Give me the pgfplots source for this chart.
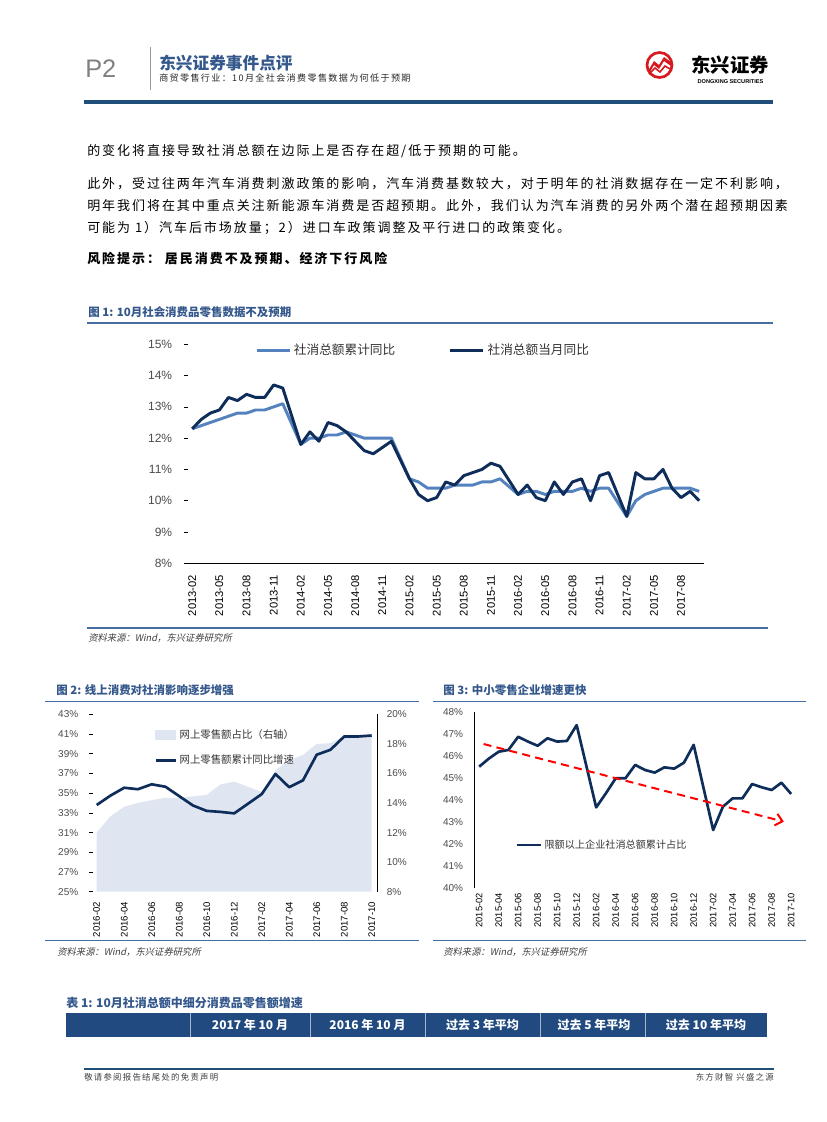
\documentclass[border=0pt]{standalone}
\usepackage{fontspec}
\setmainfont{Liberation Sans}
\newfontfamily\cjk{Noto Sans CJK SC}
\newfontfamily\cjkbody[LetterSpace=15]{Noto Sans CJK SC}
\newfontfamily\cjksl[FakeSlant=0.2]{Noto Sans CJK SC}
\usepackage{pgfplots}
\pgfplotsset{compat=1.18}
\usetikzlibrary{arrows.meta}
\definecolor{navy}{RGB}{14,45,90}
\definecolor{lightb}{RGB}{84,130,190}
\definecolor{hdrblue}{RGB}{31,78,121}
\definecolor{ttlblue}{RGB}{52,88,140}
\definecolor{sepblue}{RGB}{70,110,160}
\definecolor{areacol}{RGB}{223,230,242}
\definecolor{tblblue}{RGB}{33,74,128}
\definecolor{logored}{RGB}{215,25,32}
\begin{document}
\begin{tikzpicture}
\begin{scope}[x=0.75pt,y=-0.75pt]
\path[fill=white] (0,0) rectangle (827,1122);
% header
\node[anchor=west,inner sep=0,text=black!50] at (85,69) {\fontsize{19pt}{19pt}\selectfont P2};
\draw[black!40,line width=0.6pt] (150,47) -- (150,90);
\node[anchor=west,inner sep=0,text=ttlblue] at (159,63) {\cjk\bfseries\fontsize{12.5pt}{14pt}\selectfont 东兴证券事件点评};
\node[anchor=west,inner sep=0,text=black!85] at (159,78) {\cjkbody\fontsize{6.8pt}{8pt}\selectfont 商贸零售行业：10月全社会消费零售数据为何低于预期};
% logo
\draw[logored,line width=2pt] (659.5,65) circle (12.5);
\fill[logored] (648,71) -- (654,61) -- (659,65) -- (664,57) -- (671,62) -- (671,66) -- (664,61) -- (659,69) -- (654,65) -- (650,72) -- cycle;
\draw[logored,line width=1.2pt] (649,74) -- (655,68) -- (660,72) -- (665,66) -- (670,69);
\node[inner sep=0] at (730,65) {\cjk\bfseries\fontsize{14.5pt}{15pt}\selectfont 东兴证券};
\node[inner sep=0] at (730.5,82) {\bfseries\fontsize{4.2pt}{5pt}\selectfont DONGXING SECURITIES};
\draw[hdrblue,line width=2.4pt] (84,102) -- (773,102);
% body text
\node[anchor=west,inner sep=0] at (87,151) {\cjkbody\fontsize{9.75pt}{12pt}\selectfont 的变化将直接导致社消总额在边际上是否存在超/低于预期的可能。};
\node[anchor=west,inner sep=0] at (87,184) {\cjkbody\fontsize{9.75pt}{12pt}\selectfont 此外，受过往两年汽车消费刺激政策的影响，汽车消费基数较大，对于明年的社消数据存在一定不利影响，};
\node[anchor=west,inner sep=0] at (87,206) {\cjkbody\fontsize{9.75pt}{12pt}\selectfont 明年我们将在其中重点关注新能源车消费是否超预期。此外，我们认为汽车消费的另外两个潜在超预期因素};
\node[anchor=west,inner sep=0] at (87,228) {\cjkbody\fontsize{9.75pt}{12pt}\selectfont 可能为 1）汽车后市场放量；2）进口车政策调整及平行进口的政策变化。};
\node[anchor=west,inner sep=0] at (87,258.5) {\cjkbody\bfseries\fontsize{9.75pt}{12pt}\selectfont 风险提示：\ 居民消费不及预期、经济下行风险};
% figure 1 frame
\node[anchor=west,inner sep=0,text=ttlblue] at (88,312) {\cjk\bfseries\fontsize{8.6pt}{10pt}\selectfont 图 1: 10月社会消费品零售数据不及预期};
\draw[sepblue,line width=1.2pt] (87,323) -- (773,323);
\draw[sepblue,line width=1.2pt] (87,628) -- (768,628);
\node[anchor=west,inner sep=0,text=black!75] at (88,638.5) {\cjksl\fontsize{7pt}{8pt}\selectfont 资料来源：Wind，东兴证券研究所};
% figure 2 frame
\node[anchor=west,inner sep=0,text=ttlblue] at (56,690.5) {\cjk\bfseries\fontsize{8.6pt}{10pt}\selectfont 图 2: 线上消费对社消影响逐步增强};
\draw[sepblue,line width=1.2pt] (45,701.5) -- (419,701.5);
\draw[sepblue,line width=1.2pt] (45,940.5) -- (419,940.5);
\node[anchor=west,inner sep=0,text=black!75] at (57,952.5) {\cjksl\fontsize{7pt}{8pt}\selectfont 资料来源：Wind，东兴证券研究所};
% figure 3 frame
\node[anchor=west,inner sep=0,text=ttlblue] at (443,690.5) {\cjk\bfseries\fontsize{8.6pt}{10pt}\selectfont 图 3: 中小零售企业增速更快};
\draw[sepblue,line width=1.2pt] (433,701.5) -- (806,701.5);
\draw[sepblue,line width=1.2pt] (433,940.5) -- (806,940.5);
\node[anchor=west,inner sep=0,text=black!75] at (443,952.5) {\cjksl\fontsize{7pt}{8pt}\selectfont 资料来源：Wind，东兴证券研究所};
% table
\node[anchor=west,inner sep=0,text=ttlblue] at (66,1003) {\cjk\bfseries\fontsize{9pt}{10pt}\selectfont 表 1: 10月社消总额中细分消费品零售额增速};
\fill[tblblue] (66,1013) rectangle (767,1037);
\foreach \xx in {190,310,425,540,645} {\draw[white!60!tblblue,line width=0.5pt] (\xx,1013) -- (\xx,1037);}
\node[text=white,inner sep=0] at (250,1025) {\cjk\bfseries\fontsize{9pt}{10pt}\selectfont 2017 年 10 月};
\node[text=white,inner sep=0] at (367.5,1025) {\cjk\bfseries\fontsize{9pt}{10pt}\selectfont 2016 年 10 月};
\node[text=white,inner sep=0] at (482.5,1025) {\cjk\bfseries\fontsize{9pt}{10pt}\selectfont 过去 3 年平均};
\node[text=white,inner sep=0] at (594,1025) {\cjk\bfseries\fontsize{9pt}{10pt}\selectfont 过去 5 年平均};
\node[text=white,inner sep=0] at (706,1025) {\cjk\bfseries\fontsize{9pt}{10pt}\selectfont 过去 10 年平均};
% footer
\draw[hdrblue,line width=1.5pt] (84,1069) -- (774,1069);
\node[anchor=west,inner sep=0,text=black!75] at (84,1077.5) {\cjkbody\fontsize{6.3pt}{7pt}\selectfont 敬请参阅报告结尾处的免责声明};
\node[anchor=east,inner sep=0,text=black!75] at (774,1077.5) {\cjkbody\fontsize{6.3pt}{7pt}\selectfont 东方财智 兴盛之源};
\end{scope}

% ---------- Chart 1 ----------
\begin{axis}[
 at={(140.78pt,-422.48pt)}, anchor=south west, scale only axis,
 width=387pt, height=164.3pt,
 xmin=-0.5, xmax=56.5, ymin=8, ymax=15,
 axis x line*=bottom, axis y line*=left,
 x axis line style={black, line width=0.7pt, -},
 y axis line style={draw=none},
 xtick={0,3,...,54},
 xticklabels={2013-02,2013-05,2013-08,2013-11,2014-02,2014-05,2014-08,2014-11,2015-02,2015-05,2015-08,2015-11,2016-02,2016-05,2016-08,2016-11,2017-02,2017-05,2017-08},
 ytick={8,...,15},
 yticklabels={8\%,9\%,10\%,11\%,12\%,13\%,14\%,15\%},
 xtick style={draw=none},
 ytick style={black, line width=0.5pt},
 tick align=outside, major tick length=2.5pt,
 xticklabel style={rotate=90, anchor=east, inner sep=0pt, font=\fontsize{8.4pt}{9pt}\selectfont, text=black},
 xticklabel shift=6pt,
 yticklabel style={anchor=east, inner sep=0pt, font=\fontsize{9pt}{10pt}\selectfont, text=black!70},
 yticklabel shift=9pt,
 legend columns=2,
 legend style={draw=none, fill=none, at={(0.13,0.972)}, anchor=west, inner sep=0pt,
   font=\cjk\fontsize{9.5pt}{10pt}\selectfont, text=black!80,
   /tikz/every even column/.append style={column sep=38pt}},
 legend image code/.code={\draw[#1] (0pt,0pt) -- (25pt,0pt);},
]
\addplot[lightb, line width=2.2pt, line join=round] coordinates {
(0,12.3)(1,12.4)(2,12.5)(3,12.6)(4,12.7)(5,12.8)(6,12.8)(7,12.9)(8,12.9)(9,13.0)(10,13.1)
(12,11.8)(13,12.0)(14,12.0)(15,12.1)(16,12.1)(17,12.2)(18,12.1)(19,12.0)(20,12.0)(21,12.0)(22,12.0)
(24,10.7)(25,10.6)(26,10.4)(27,10.4)(28,10.4)(29,10.5)(30,10.5)(31,10.5)(32,10.6)(33,10.6)(34,10.7)
(36,10.2)(37,10.3)(38,10.3)(39,10.2)(40,10.3)(41,10.3)(42,10.3)(43,10.4)(44,10.3)(45,10.4)(46,10.4)
(48,9.5)(49,10.0)(50,10.2)(51,10.3)(52,10.4)(53,10.4)(54,10.4)(55,10.4)(56,10.3)};
\addlegendentry{社消总额累计同比}
\addplot[navy, line width=2.2pt, line join=round] coordinates {
(0,12.3)(1,12.6)(2,12.8)(3,12.9)(4,13.3)(5,13.2)(6,13.4)(7,13.3)(8,13.3)(9,13.7)(10,13.6)
(12,11.8)(13,12.2)(14,11.9)(15,12.5)(16,12.4)(17,12.2)(18,11.9)(19,11.6)(20,11.5)(21,11.7)(22,11.9)
(24,10.7)(25,10.2)(26,10.0)(27,10.1)(28,10.6)(29,10.5)(30,10.8)(31,10.9)(32,11.0)(33,11.2)(34,11.1)
(36,10.2)(37,10.5)(38,10.1)(39,10.0)(40,10.6)(41,10.2)(42,10.6)(43,10.7)(44,10.0)(45,10.8)(46,10.9)
(48,9.5)(49,10.9)(50,10.7)(51,10.7)(52,11.0)(53,10.4)(54,10.1)(55,10.3)(56,10.0)};
\addlegendentry{社消总额当月同比}
\end{axis}

% ---------- Chart 2: area (right axis) ----------
\begin{axis}[
 at={(67.88pt,-668.78pt)}, anchor=south west, scale only axis,
 width=215.55pt, height=133.05pt,
 xmin=-0.45, xmax=20.45, ymin=8, ymax=20,
 axis x line=none, axis y line*=right,
 y axis line style={black, line width=0.7pt, -},
 ytick={8,10,...,20},
 yticklabels={8\%,10\%,12\%,14\%,16\%,18\%,20\%},
 ytick style={draw=none},
 yticklabel style={anchor=west, inner sep=0pt, font=\fontsize{7.5pt}{8pt}\selectfont, text=black!70},
 yticklabel shift=6.5pt,
]
\addplot[fill=areacol, draw=none] coordinates {
(0,12.0)(1,13.1)(2,13.75)(3,14.0)(4,14.2)(5,14.35)(6,14.35)(7,14.45)(8,14.55)(9,15.25)(10,15.45)
(12,14.75)(13,16.2)(14,16.9)(15,17.25)(16,18.0)(17,18.05)(18,18.5)(19,18.5)(20,18.55)} \closedcycle;
\end{axis}
% ---------- Chart 2: line (left axis) ----------
\begin{axis}[
 at={(67.88pt,-668.78pt)}, anchor=south west, scale only axis,
 width=215.55pt, height=133.05pt,
 xmin=-0.45, xmax=20.45, ymin=25, ymax=43,
 axis x line*=bottom, axis y line*=left,
 x axis line style={draw=none},
 y axis line style={draw=none},
 xtick={0,2,...,20},
 xticklabels={2016-02,2016-04,2016-06,2016-08,2016-10,2016-12,2017-02,2017-04,2017-06,2017-08,2017-10},
 ytick={25,27,...,43},
 yticklabels={25\%,27\%,29\%,31\%,33\%,35\%,37\%,39\%,41\%,43\%},
 xtick style={draw=none},
 ytick style={black, line width=0.5pt},
 tick align=center, major tick length=3pt,
 xticklabel style={rotate=90, anchor=east, inner sep=0pt, font=\fontsize{7.2pt}{8pt}\selectfont, text=black},
 xticklabel shift=6pt,
 yticklabel style={anchor=east, inner sep=0pt, font=\fontsize{7.5pt}{8pt}\selectfont, text=black!70},
 yticklabel shift=7.5pt,
 legend style={draw=none, fill=none, at={(0.221,0.93)}, anchor=north west, inner sep=0pt,
   font=\cjk\fontsize{7.8pt}{9pt}\selectfont, text=black!80, row sep=7pt},
 legend image code/.code={\draw[#1] (0pt,0pt) -- (15pt,0pt);},
]
\addlegendimage{legend image code/.code={\fill[areacol] (0pt,-3.4pt) rectangle (15pt,3.4pt);}}
\addlegendentry{网上零售额占比（右轴）}
\addplot[navy, line width=2pt, line join=round] coordinates {
(0,33.8)(1,34.75)(2,35.55)(3,35.4)(4,35.9)(5,35.65)(6,34.7)(7,33.75)(8,33.2)(9,33.1)(10,32.95)
(12,34.9)(13,36.95)(14,35.6)(15,36.3)(16,38.9)(17,39.4)(18,40.75)(19,40.75)(20,40.85)};
\addlegendentry{网上零售额累计同比增速}
\end{axis}

% ---------- Chart 3 ----------
\begin{axis}[
 at={(355.73pt,-666.23pt)}, anchor=south west, scale only axis,
 width=241.3pt, height=132pt,
 xmin=-0.5, xmax=32.5, ymin=40, ymax=48,
 axis x line*=bottom, axis y line*=left,
 x axis line style={draw=none},
 y axis line style={black, line width=0.6pt, -},
 xtick={0,2,...,32},
 xticklabels={2015-02,2015-04,2015-06,2015-08,2015-10,2015-12,2016-02,2016-04,2016-06,2016-08,2016-10,2016-12,2017-02,2017-04,2017-06,2017-08,2017-10},
 ytick={40,...,48},
 yticklabels={40\%,41\%,42\%,43\%,44\%,45\%,46\%,47\%,48\%},
 xtick style={draw=none}, ytick style={draw=none},
 xticklabel style={rotate=90, anchor=east, inner sep=0pt, font=\fontsize{7pt}{8pt}\selectfont, text=black},
 xticklabel shift=3.5pt,
 yticklabel style={anchor=east, inner sep=0pt, font=\fontsize{7.5pt}{8pt}\selectfont, text=black!70},
 yticklabel shift=8.2pt,
 legend style={draw=none, fill=none, at={(0.1265,0.246)}, anchor=west, inner sep=0pt,
   font=\cjk\fontsize{7.6pt}{9pt}\selectfont, text=black!80},
 legend image code/.code={\draw[#1] (0pt,0pt) -- (18pt,0pt);},
]
\addplot[navy, line width=2pt, line join=round] coordinates {
(0,45.53)(1,45.9)(2,46.21)(3,46.29)(4,46.89)(5,46.67)(6,46.48)(7,46.82)(8,46.67)(9,46.7)(10,47.42)
(12,43.68)(13,44.32)(14,45.0)(15,45.0)(16,45.61)(17,45.38)(18,45.26)(19,45.5)(20,45.44)(21,45.71)(22,46.52)
(24,42.65)(25,43.71)(26,44.09)(27,44.09)(28,44.74)(29,44.59)(30,44.47)(31,44.8)(32,44.29)};
\addlegendentry{限额以上企业社消总额累计占比}
\addplot[red, line width=1.5pt, dash pattern=on 6pt off 4pt, -{Straight Barb[length=5pt,width=9pt]}, forget plot] coordinates {(0.45,46.56) (31.25,43.03)};
\end{axis}
\end{tikzpicture}
\end{document}
